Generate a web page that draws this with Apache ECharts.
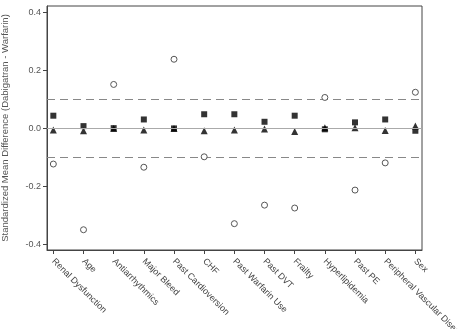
<!DOCTYPE html>
<html><head><meta charset="utf-8">
<script src="https://cdn.jsdelivr.net/npm/echarts@6/dist/echarts.min.js"></script>
<style>html,body{margin:0;padding:0;background:#fff}#c{width:465px;height:329px}</style>
</head><body><div id="c"></div>
<script>
const categories = ["Renal Dysfunction","Age","Antiarrhythmics","Major Bleed","Past Cardioversion","CHF","Past Warfarin Use","Past DVT","Frailty","Hyperlipidemia","Past PE","Peripheral Vascular Disease","Sex"];
const squareValues = [0.044,0.008,0.001,0.031,0.000,0.049,0.049,0.023,0.044,-0.003,0.021,0.031,-0.008];
const triangleValues = [-0.005,-0.008,0.000,-0.005,0.000,-0.008,-0.005,-0.002,-0.011,0.002,0.002,-0.007,0.008];
const circleValues = [-0.123,-0.350,0.152,-0.134,0.239,-0.098,-0.329,-0.265,-0.275,0.107,-0.213,-0.119,0.125];
const yTicks = [-0.4,-0.2,0,0.2,0.4];
const catIdx = categories.map((c,i)=>i);

const chart = echarts.init(document.getElementById('c'), null, {renderer:'canvas'});
const font = 'Liberation Sans, Arial, sans-serif';
chart.setOption({
  animation:false,
  grid:{left:47,top:6,right:43,bottom:79,show:true,borderColor:'#444',borderWidth:1,backgroundColor:'transparent',
    containLabel:false,outerBoundsMode:'none'},
  xAxis:{type:'value',min:-0.21,max:12.22,
    axisLine:{show:true,onZero:false,lineStyle:{color:'#444'}},
    splitLine:{show:false},
    axisTick:{show:true,length:4,customValues:catIdx,lineStyle:{color:'#444'}},
    axisLabel:{customValues:catIdx,rotate:-45,margin:10,color:'#444',fontSize:9,fontFamily:font,
      formatter:v=>categories[Math.round(v)]}
  },
  yAxis:{type:'value',min:-0.42,max:0.423,
    name:'Standardized Mean Difference (Dabigatran - Warfarin)',nameLocation:'middle',nameGap:37,nameRotate:90,
    nameTextStyle:{color:'#555',fontSize:9.5,fontFamily:font},
    axisLine:{show:true,onZero:false,lineStyle:{color:'#444'}},
    splitLine:{show:false},
    axisTick:{show:true,length:4,customValues:yTicks,lineStyle:{color:'#444'}},
    axisLabel:{customValues:yTicks,color:'#555',fontSize:9,fontFamily:font,margin:6,
      formatter:v=>v.toFixed(1)}
  },
  series:[
    {type:'scatter',symbol:'rect',symbolSize:6,itemStyle:{color:'#000'},
     data:squareValues.map((v,i)=>[i,v]),z:3,
     markLine:{silent:true,symbol:'none',label:{show:false},
       data:[
         {yAxis:0,lineStyle:{type:'solid',color:'#aaa',width:1}},
         {yAxis:0.1,lineStyle:{type:[8,5],color:'#888',width:1}},
         {yAxis:-0.1,lineStyle:{type:[8,5],color:'#888',width:1}}
       ]}},
    {type:'scatter',symbol:'triangle',symbolSize:7,itemStyle:{color:'#000'},
     data:triangleValues.map((v,i)=>[i,v]),z:4},
    {type:'scatter',symbol:'circle',symbolSize:6,itemStyle:{color:'#fff',borderColor:'#555',borderWidth:1,opacity:1},
     data:circleValues.map((v,i)=>[i,v]),z:5}
  ]
});
</script></body></html>
